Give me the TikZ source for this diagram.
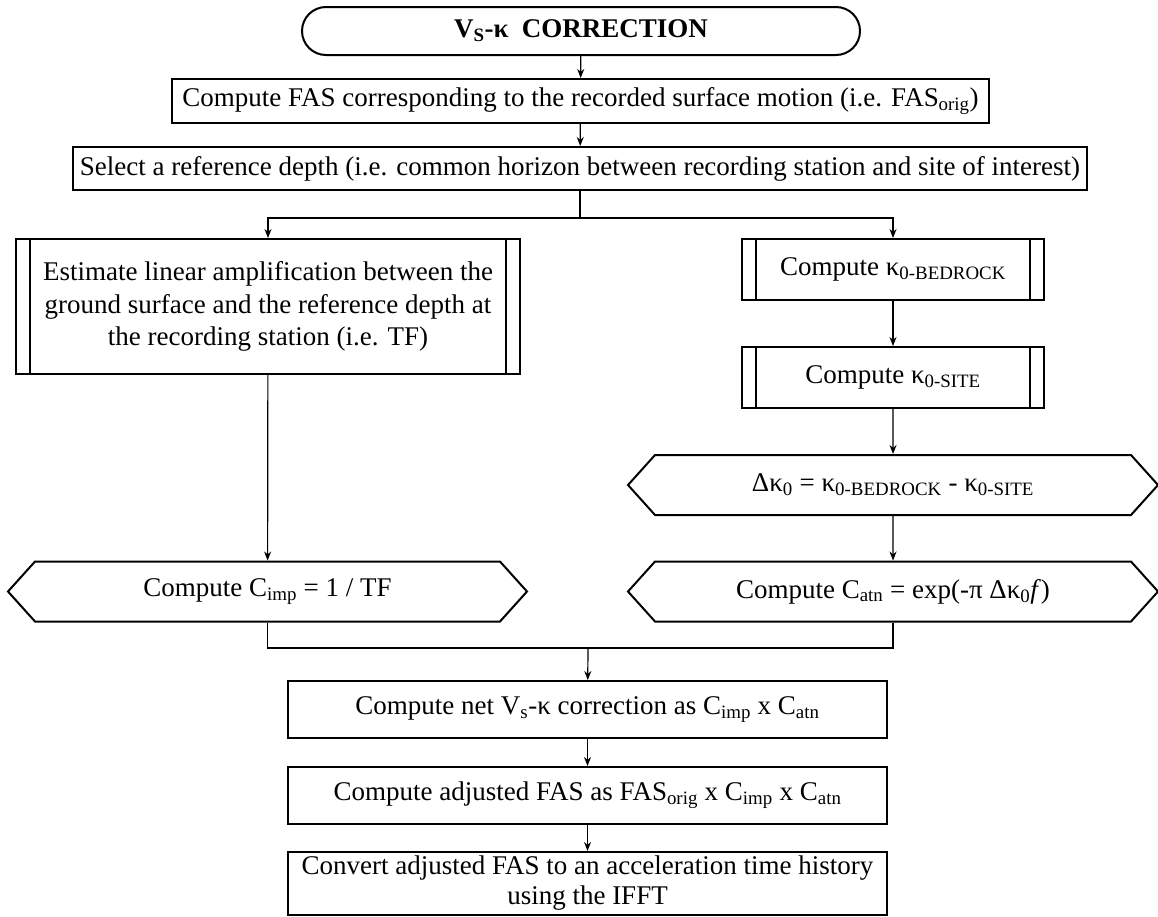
\documentclass[tikz,border=0pt]{standalone}
\usepackage{fontspec}
\setmainfont{Liberation Serif}
\usetikzlibrary{shapes.symbols,arrows.meta,positioning}

\begin{document}
\begin{tikzpicture}[x=1pt, y=-1pt,
  every node/.style={font=\fontsize{27}{32.5}\selectfont, align=center},
  terminal/.style={draw, line width=2pt, rounded corners=24pt,
    minimum width=558pt, minimum height=48pt},
  process/.style={draw, line width=2pt, inner sep=2pt},
  subproc/.style={draw, line width=2pt, path picture={
    \draw[line width=2pt]
      ([xshift=14pt]path picture bounding box.north west) -- ([xshift=14pt]path picture bounding box.south west)
      ([xshift=-14pt]path picture bounding box.north east) -- ([xshift=-14pt]path picture bounding box.south east);}},
  prep/.style={signal, signal to=west and east, signal pointer angle=96,
    draw, line width=2pt, minimum height=60pt},
  link/.style={line width=1.2pt, -{Stealth[length=9pt,width=7pt]}},
  wire/.style={line width=1.2pt}]
\useasboundingbox (0,0) rectangle (1158,916);
%%% top of the chart %%%

      \node[terminal] (title) at (581,31) {\textbf{V\textsubscript{S}-κ\ \ CORRECTION}};
      \node[process, minimum width=817pt, minimum height=44pt] (fas) at (580.5,101)
        {Compute FAS corresponding to the recorded surface motion (i.e. FAS\textsubscript{orig})};
      \node[process, minimum width=1014pt, minimum height=43pt] (ref) at (580,168.5)
        {Select a reference depth (i.e. common horizon between recording station and site of interest)};
      %%
      \coordinate (split) at (580,218);

%%% left branch %%%
      \node[subproc, minimum width=504pt, minimum height=135pt] (tf) at (268,306.5)
        {Estimate linear amplification between the\\ ground surface and the reference depth at\\ the recording station (i.e. TF)};
      \node[prep, minimum width=519pt] (cimp) at (267.5,591.5)
        {Compute C\textsubscript{imp} = 1 / TF};

%%% right branch %%%
      \node[subproc, minimum width=302pt, minimum height=61pt] (bed) at (893,269.5)
        {Compute κ\textsubscript{0-BEDROCK}};
      \node[subproc, minimum width=302pt, minimum height=61pt] (site) at (893,377.5)
        {Compute κ\textsubscript{0-SITE}};
      \node[prep, minimum width=530pt] (dk) at (893,485)
        {Δκ\textsubscript{0} = κ\textsubscript{0-BEDROCK} - κ\textsubscript{0-SITE}};
      \node[prep, minimum width=530pt] (catn) at (893,591.5)
        {Compute C\textsubscript{atn} = exp(-π Δκ\textsubscript{0}\textit{f})};

%%% bottom of the chart %%%
      \coordinate (merge) at (588,648);
      \node[process, minimum width=599pt, minimum height=57pt] (net) at (587.5,709.5)
        {Compute net V\textsubscript{s}-κ correction as C\textsubscript{imp} x C\textsubscript{atn}};
      \node[process, minimum width=599pt, minimum height=57pt] (adj) at (587.5,795.5)
        {Compute adjusted FAS as FAS\textsubscript{orig} x C\textsubscript{imp} x C\textsubscript{atn}};
      \node[process, minimum width=599pt, minimum height=63pt, inner sep=1pt,
        font=\fontsize{27}{30}\selectfont] (conv) at (587.5,883.5)
        {Convert adjusted FAS to an acceleration time history\\ using the IFFT};

%%% connectors %%%
      \draw[link] (title) -- (fas);
      \draw[link] (fas) -- (ref);
      \draw[wire] (ref) -- (split);
      \draw[link] (split) -| (tf);
      \draw[link] (split) -| (bed);
      \draw[link] (tf) -- (cimp);
      \draw[link] (bed) -- (site);
      \draw[link] (site) -- (dk);
      \draw[link] (dk) -- (catn);
      \draw[wire] (cimp.south) |- (merge) -| (catn.south);
      \draw[link] (merge) -- (net);
      \draw[link] (net) -- (adj);
      \draw[link] (adj) -- (conv);

\end{tikzpicture}
\end{document}
